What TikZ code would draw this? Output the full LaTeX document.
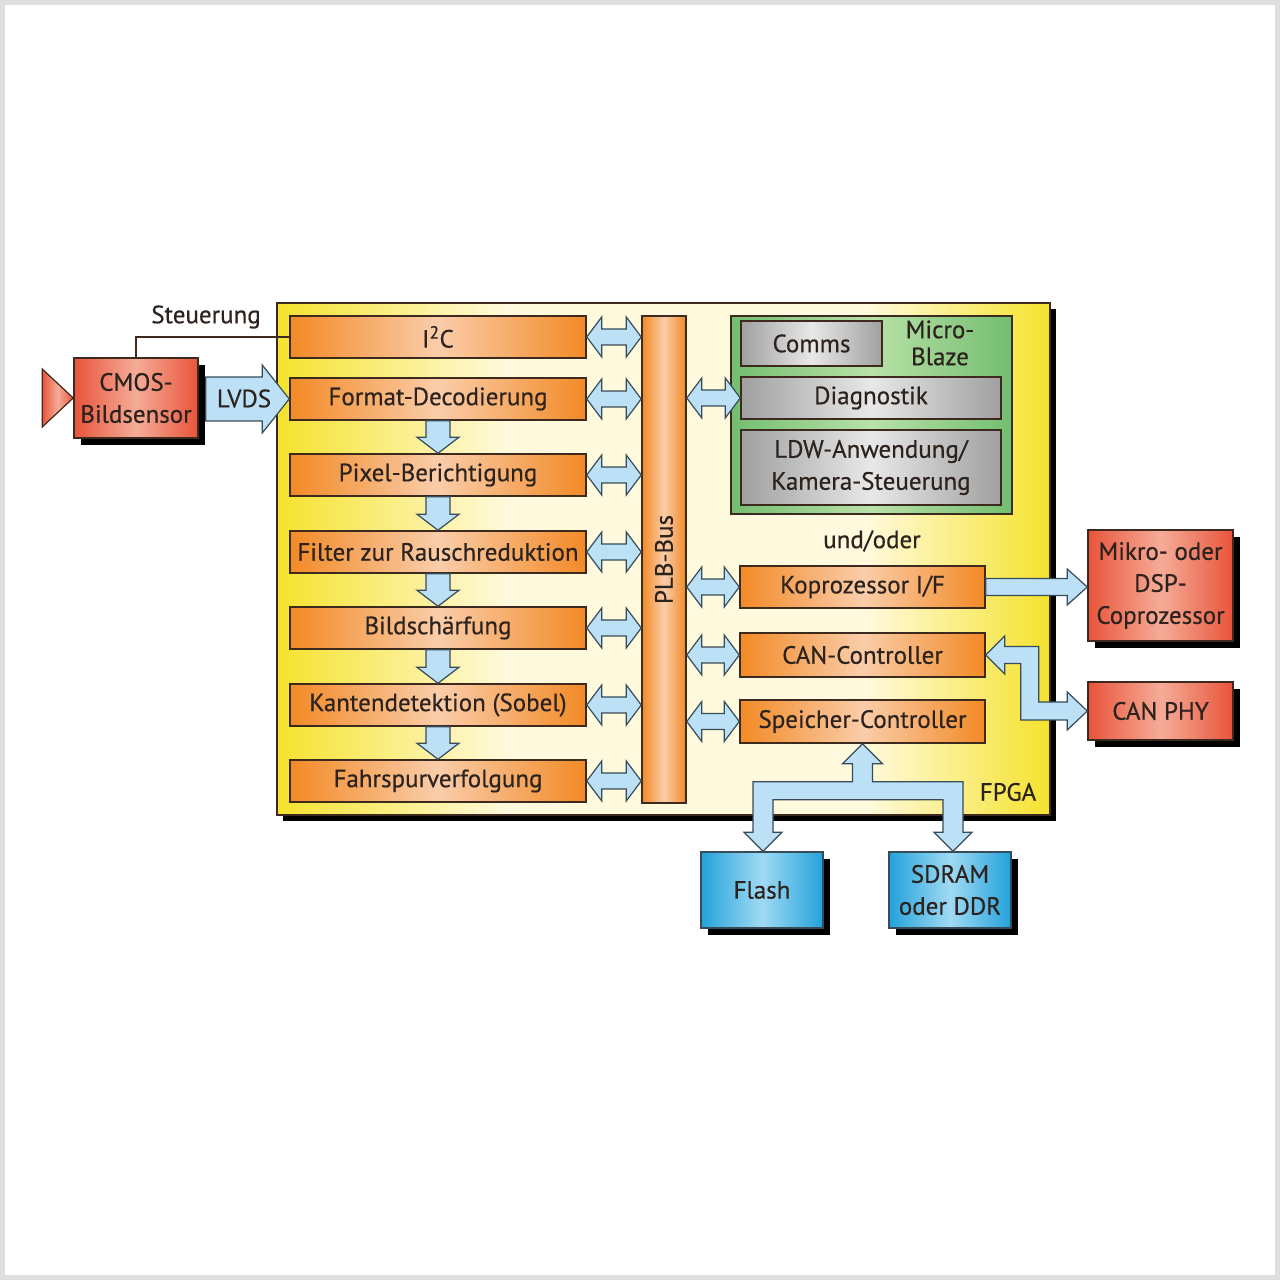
\documentclass[tikz,border=0pt]{standalone}
\usepackage{fontspec}
\setmainfont{PT Sans}[FakeBold=0.5]
\usetikzlibrary{calc,shadows}

\definecolor{framegray}{RGB}{222,222,222}
\definecolor{txt}{RGB}{45,35,30}
\definecolor{outline}{RGB}{60,42,30}
\definecolor{fpgayellow}{RGB}{245,226,45}
\definecolor{fpgacream}{RGB}{255,250,222}
\definecolor{orA}{RGB}{242,138,38}
\definecolor{orB}{RGB}{250,205,170}
\definecolor{redA}{RGB}{232,84,58}
\definecolor{redB}{RGB}{245,172,152}
\definecolor{blueA}{RGB}{35,162,218}
\definecolor{blueB}{RGB}{160,218,244}
\definecolor{greenA}{RGB}{115,190,112}
\definecolor{greenB}{RGB}{185,225,168}
\definecolor{grayA}{RGB}{160,160,160}
\definecolor{grayB}{RGB}{232,232,232}
\definecolor{arrowfill}{RGB}{188,224,246}
\definecolor{arrowline}{RGB}{55,75,88}

\pgfdeclarehorizontalshading{fpgashade}{100bp}{color(0bp)=(fpgayellow); color(25bp)=(fpgayellow);
  color(40bp)=(fpgacream); color(63bp)=(fpgacream); color(75bp)=(fpgayellow); color(100bp)=(fpgayellow)}

% fat double arrow between a block and the bus
\newcommand{\busarrow}[2]{%
  \draw[fatarrow] let \p1=#1, \p2=#2 in
    (\x1,\y1) -- (\x1+15pt,\y1+20pt) -- (\x1+15pt,\y1+8pt) -- (\x2-15pt,\y1+8pt)
    -- (\x2-15pt,\y1+20pt) -- (\x2,\y1) -- (\x2-15pt,\y1-20pt) -- (\x2-15pt,\y1-8pt)
    -- (\x1+15pt,\y1-8pt) -- (\x1+15pt,\y1-20pt) -- cycle;}
% fat down arrow between two pipeline blocks
\newcommand{\flowarrow}[2]{%
  \draw[fatarrow] let \p1=#1, \p2=#2 in
    (\x1-12pt,\y1) -- (\x1-12pt,\y2+16pt) -- (\x1-21pt,\y2+16pt) -- (\x1,\y2)
    -- (\x1+21pt,\y2+16pt) -- (\x1+12pt,\y2+16pt) -- (\x1+12pt,\y1) -- cycle;}

\begin{document}
\begin{tikzpicture}[x=1pt, y=1pt,
    every node/.style={font=\fontsize{25}{32}\selectfont, text=txt},
    fpga/.style={draw=outline, line width=1.5pt, shading=fpgashade,
      drop shadow={shadow xshift=6pt, shadow yshift=-6pt, fill=black, opacity=1}},
    block/.style={draw=outline, line width=1.5pt, left color=orA, right color=orA, middle color=orB,
      minimum width=296pt, minimum height=42pt, inner sep=2pt},
    redbox/.style={draw=outline, line width=1.5pt, left color=redA, right color=redA, middle color=redB,
      inner sep=2pt, align=center,
      drop shadow={shadow xshift=7pt, shadow yshift=-7pt, fill=black, opacity=1}},
    bluebox/.style={draw=arrowline, line width=1.5pt, left color=blueA, right color=blueA, middle color=blueB,
      minimum width=122pt, minimum height=76pt, inner sep=2pt, align=center,
      drop shadow={shadow xshift=7pt, shadow yshift=-7pt, fill=black, opacity=1}},
    mbbox/.style={draw=outline, line width=1.5pt, left color=greenA, right color=greenA, middle color=greenB},
    graybox/.style={draw=outline, line width=1.5pt, left color=grayA, right color=grayA, middle color=grayB,
      inner sep=2pt},
    fatarrow/.style={draw=arrowline, fill=arrowfill, line width=1.2pt, line join=miter},
    ctrlline/.style={draw=outline, line width=1.2pt}]

    % Frame
    \useasboundingbox (0,0) rectangle (1280,1280);
    \draw[framegray, line width=5pt] (2.5,2.5) rectangle (1277.5,1277.5);

    % FPGA
    \node[fpga, minimum width=773pt, minimum height=512pt] (fpga) at (663.5,721) {};
    \node (fpgalabel) at (1008,488) {FPGA};

    % Pipeline
    \node[block] (i2c) at (438,943) {I\textsuperscript{2}C};
    \node[block] (fmt) at (438,881) {Format-Decodierung};
    \node[block] (pix) at (438,805) {Pixel-Berichtigung};
    \node[block] (flt) at (438,728) {Filter zur Rauschreduktion};
    \node[block] (shp) at (438,652) {Bildschärfung};
    \node[block] (kante) at (438,575) {Kantendetektion (Sobel)};
    \node[block] (lane) at (438,499) {Fahrspurverfolgung};

    % Bus
    \node[block, minimum width=44pt, minimum height=487pt] (bus) at (664,720.5) {};
    \node[rotate=90] (buslabel) at (bus.center) {PLB-Bus};

    % MicroBlaze
    \node[mbbox, minimum width=281pt, minimum height=198pt] (mb) at (871.5,865) {};
    \node[graybox, minimum width=141pt, minimum height=45pt] (comms) at (811.5,936.5) {Comms};
    \node[align=center] (mblabel) at (940,937) {Micro-\\[-5pt]Blaze};
    \node[graybox, minimum width=260pt, minimum height=42pt] (diag) at (871,882) {Diagnostik};
    \node[graybox, minimum width=260pt, minimum height=75pt, align=center] (ldw) at (871,812.5) {LDW-Anwendung/\\Kamera-Steuerung};

    % Peripherals in the FPGA
    \node (undoder) at (872,739) {und/oder};
    \node[block, minimum width=245pt] (kopro) at (862.5,693) {Koprozessor I/F};
    \node[block, minimum width=245pt, minimum height=44pt] (canctl) at (862.5,625) {CAN-Controller};
    \node[block, minimum width=245pt, minimum height=43pt] (mem) at (862.5,558.5) {Speicher-Controller};

    % Outside the FPGA
    \node[redbox, minimum width=124pt, minimum height=80pt] (cmos) at (136,882) {CMOS-\\Bildsensor};
    \node[redbox, minimum width=145pt, minimum height=111pt] (mikro) at (1160.5,694.5) {Mikro- oder\\DSP-\\Coprozessor};
    \node[redbox, minimum width=145pt, minimum height=58pt] (canphy) at (1160.5,569) {CAN PHY};
    \node[bluebox] (flash) at (762,390) {Flash};
    \node[bluebox] (sdram) at (950,390) {SDRAM\\oder DDR};
    \node (steuerung) at (206,963) {Steuerung};

    % Sensor lens
    \draw[ctrlline, left color=redA, right color=redA, middle color=redB] ($(cmos.west)+(-31,29)$) -- (cmos.west) -- ($(cmos.west)+(-31,-29)$) -- cycle;

    % Control line
    \draw[ctrlline] (cmos.north) |- (i2c.west);

    % LVDS
    \draw[fatarrow] let \p1=(cmos.east), \p2=(fmt.west) in
      (\x1+7pt,\y2+22pt) -- (\x2-27pt,\y2+22pt) -- (\x2-27pt,\y2+34pt) -- (\x2,\y2)
      -- (\x2-27pt,\y2-34pt) -- (\x2-27pt,\y2-22pt) -- (\x1+7pt,\y2-22pt) -- cycle;
    \node (lvds) at ($(cmos.east)!0.5!(fmt.west)$) {LVDS};

    % Pipeline arrows
    \flowarrow{(fmt.south)}{(pix.north)}
    \flowarrow{(pix.south)}{(flt.north)}
    \flowarrow{(flt.south)}{(shp.north)}
    \flowarrow{(shp.south)}{(kante.north)}
    \flowarrow{(kante.south)}{(lane.north)}

    % Bus arrows
    \foreach \blk in {i2c,fmt,pix,flt,shp,kante,lane}
      \busarrow{(\blk.east)}{(bus.west |- \blk.east)};
    \foreach \blk in {diag,kopro,canctl,mem}
      \busarrow{(bus.east |- \blk.west)}{(\blk.west)};

    % Koprozessor
    \draw[fatarrow] let \p1=(kopro.east), \p2=(mikro.west) in
      (\x1,\y1+8.5pt) -- (\x2-20pt,\y1+8.5pt) -- (\x2-20pt,\y1+18pt) -- (\x2,\y1)
      -- (\x2-20pt,\y1-18pt) -- (\x2-20pt,\y1-8.5pt) -- (\x1,\y1-8.5pt) -- cycle;

    % CAN
    \draw[fatarrow] let \p1=(canctl.east), \p2=(canphy.west) in
      (\x1,\y1) -- (\x1+19pt,\y1+19pt) -- (\x1+19pt,\y1+8.5pt) -- (\x1+53pt,\y1+8.5pt)
      -- (\x1+53pt,\y2+9pt) -- (\x2-20pt,\y2+9pt) -- (\x2-20pt,\y2+19pt) -- (\x2,\y2)
      -- (\x2-20pt,\y2-19pt) -- (\x2-20pt,\y2-9pt) -- (\x1+35pt,\y2-9pt)
      -- (\x1+35pt,\y1-8.5pt) -- (\x1+19pt,\y1-8.5pt) -- (\x1+19pt,\y1-19pt) -- cycle;

    % Memory
    \draw[fatarrow] let \p1=(mem.south), \p2=(flash.north), \p3=(sdram.north) in
      (\x1,\y1) -- (\x1+20pt,\y1-20pt) -- (\x1+10pt,\y1-20pt) -- (\x1+10pt,\y1-38pt)
      -- (\x3+13pt,\y1-38pt) -- (\x3+13pt,\y3+19pt) -- (\x3+22pt,\y3+19pt) -- (\x3+3pt,\y3)
      -- (\x3-16pt,\y3+19pt) -- (\x3-7pt,\y3+19pt) -- (\x3-7pt,\y1-56pt)
      -- (\x2+11pt,\y1-56pt) -- (\x2+11pt,\y2+19pt) -- (\x2+20pt,\y2+19pt) -- (\x2+1pt,\y2)
      -- (\x2-18pt,\y2+19pt) -- (\x2-9pt,\y2+19pt) -- (\x2-9pt,\y1-38pt)
      -- (\x1-10pt,\y1-38pt) -- (\x1-10pt,\y1-20pt) -- (\x1-20pt,\y1-20pt) -- cycle;
\end{tikzpicture}
\end{document}
